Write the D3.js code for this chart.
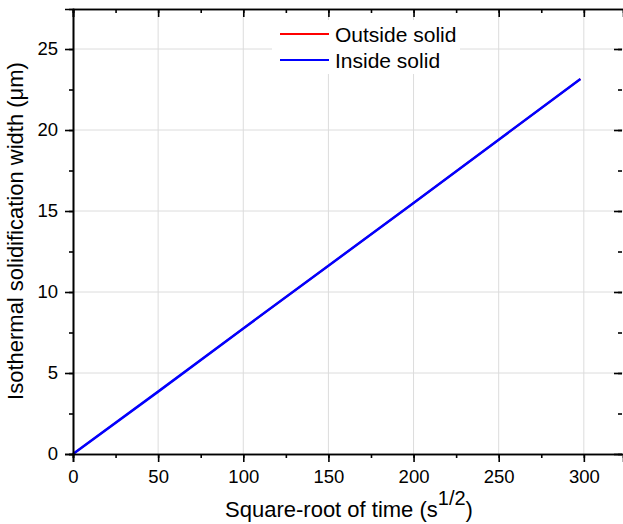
<!DOCTYPE html>
<html><head><meta charset="utf-8">
<script src="https://cdn.jsdelivr.net/npm/d3@7"></script>
<style>body{margin:0;background:#fff}svg{display:block}text{font-family:"Liberation Sans",Arial,sans-serif}</style>
</head><body>
<script>
const xTicks = [0, 50, 100, 150, 200, 250, 300];
const yTicks = [0, 5, 10, 15, 20, 25];
const seriesNames = ["Outside solid", "Inside solid"];
const seriesColors = ["#ff0000", "#0000ff"];
const outsideX = [0, 50, 100, 150, 200, 250, 298];
const outsideY = [0, 3.85, 7.75, 11.62, 15.5, 19.4, 23.15];
const insideX = [0, 50, 100, 150, 200, 250, 298];
const insideY = [0, 3.85, 7.75, 11.62, 15.5, 19.4, 23.15];

(function () {
const W = 623, H = 524;
const m = {l: 73, t: 9, r: 623, b: 454};
const svg = d3.select("body").append("svg").attr("width", W).attr("height", H);
const x = d3.scaleLinear().domain([0, 323]).range([m.l, m.r]);
const y = d3.scaleLinear().domain([0, 27.47]).range([m.b, m.t]);

// grid
svg.append("g").selectAll("line").data(xTicks.filter(d => d > 0)).join("line")
  .attr("x1", d => x(d)).attr("x2", d => x(d)).attr("y1", m.t).attr("y2", m.b)
  .attr("stroke", "#dcdcdc").attr("stroke-width", 1);
svg.append("g").selectAll("line").data(yTicks.filter(d => d > 0)).join("line")
  .attr("y1", d => y(d)).attr("y2", d => y(d)).attr("x1", m.l).attr("x2", m.r)
  .attr("stroke", "#dcdcdc").attr("stroke-width", 1);

// legend background
svg.append("rect").attr("x", 272).attr("y", 20).attr("width", 188).attr("height", 54).attr("fill", "#fff");

// lines
const series = [
  {x: outsideX, y: outsideY, c: seriesColors[0], w: 1.8},
  {x: insideX, y: insideY, c: seriesColors[1], w: 2.5}
];
const line = d3.line().x(d => x(d[0])).y(d => y(d[1]));
series.forEach(s => {
  svg.append("path").datum(s.x.map((v, i) => [v, s.y[i]]))
    .attr("d", line).attr("fill", "none").attr("stroke", s.c).attr("stroke-width", s.w);
});

// axes
const minorX = d3.range(0, 325, 25);
const minorY = d3.range(0, 27.5, 2.5);
const gB = svg.append("g").attr("transform", `translate(0,${m.b})`)
  .call(d3.axisBottom(x).tickValues(minorX).tickSize(4).tickFormat(""));
const gBM = svg.append("g").attr("transform", `translate(0,${m.b})`)
  .call(d3.axisBottom(x).tickValues(xTicks).tickSize(8).tickPadding(8).tickFormat(d3.format("d")));
const gL = svg.append("g").attr("transform", `translate(${m.l},0)`)
  .call(d3.axisLeft(y).tickValues(minorY).tickSize(4).tickFormat(""));
const gLM = svg.append("g").attr("transform", `translate(${m.l},0)`)
  .call(d3.axisLeft(y).tickValues(yTicks).tickSize(8).tickPadding(7).tickFormat(d3.format("d")));
const gT = svg.append("g").attr("transform", `translate(0,${m.t})`)
  .call(d3.axisBottom(x).tickValues(minorX).tickSize(4).tickFormat(""));
const gTM = svg.append("g").attr("transform", `translate(0,${m.t})`)
  .call(d3.axisBottom(x).tickValues(xTicks).tickSize(8).tickFormat(""));
const gR = svg.append("g").attr("transform", `translate(${m.r - 1},0)`)
  .call(d3.axisLeft(y).tickValues(minorY).tickSize(4).tickFormat(""));
const gRM = svg.append("g").attr("transform", `translate(${m.r - 1},0)`)
  .call(d3.axisLeft(y).tickValues(yTicks).tickSize(8).tickFormat(""));
[gB, gBM, gL, gLM, gT, gTM, gR, gRM].forEach(g => {
  g.selectAll("path").attr("stroke", "#000").attr("stroke-width", 1.6);
  g.selectAll("line").attr("stroke", "#000").attr("stroke-width", 1.6);
  g.selectAll("text").attr("font-size", 18.5).attr("fill", "#000")
    .attr("font-family", "'Liberation Sans', Arial, sans-serif");
});
[gR, gRM].forEach(g => g.select("path").remove());

// legend
seriesNames.forEach((n, i) => {
  const yy = 34 + i * 26;
  svg.append("line").attr("x1", 280).attr("x2", 329).attr("y1", yy).attr("y2", yy)
    .attr("stroke", seriesColors[i]).attr("stroke-width", 2);
  svg.append("text").attr("x", 335).attr("y", yy + 7.5).attr("font-size", 21).text(n);
});

// axis titles
const xt = svg.append("text").attr("x", 349).attr("y", 517).attr("text-anchor", "middle").attr("font-size", 22);
xt.append("tspan").text("Square-root of time (s");
xt.append("tspan").attr("dy", -12).attr("font-size", 20).text("1/2");
xt.append("tspan").attr("dy", 12).text(")");
svg.append("text").attr("transform", "translate(23,231) rotate(-90)")
  .attr("text-anchor", "middle").attr("font-size", 22).text("Isothermal solidification width (μm)");
})();
</script>
</body></html>
